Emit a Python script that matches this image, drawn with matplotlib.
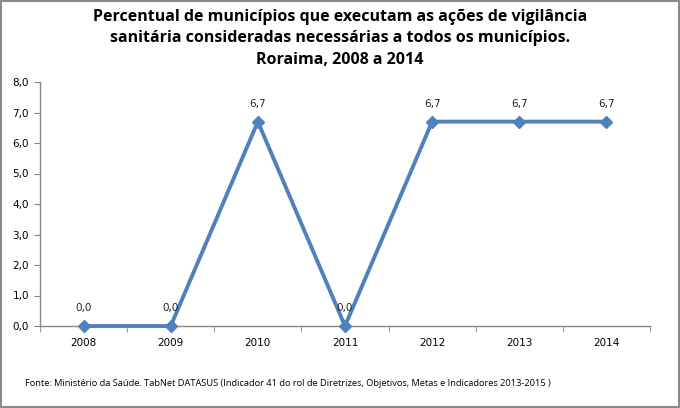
import matplotlib.pyplot as plt
from matplotlib.patches import Rectangle
from matplotlib.ticker import FixedLocator, MultipleLocator, FuncFormatter

anos = ['2008', '2009', '2010', '2011', '2012', '2013', '2014']
percentual = [0.0, 0.0, 6.7, 0.0, 6.7, 6.7, 6.7]

titulo = ('Percentual de municípios que executam as ações de vigilância\n'
          'sanitária consideradas necessárias a todos os municípios.\n'
          'Roraima, 2008 a 2014')
fonte = ('Fonte: Ministério da Saúde. TabNet DATASUS (Indicador 41 do rol de '
         'Diretrizes, Objetivos, Metas e Indicadores 2013-2015 )')

azul = '#4F81BD'

fig = plt.figure(figsize=(6.8, 4.08), dpi=100)
ax = fig.add_axes([40 / 680, 1 - 326 / 408, 610 / 680, 244 / 408])

x = list(range(len(anos)))
ax.plot(x, percentual, color=azul, lw=2.8, marker='D', ms=6.5,
        mfc=azul, mec=azul, clip_on=False, zorder=3)

for xi, v in zip(x, percentual):
    ax.annotate(f'{v:.1f}'.replace('.', ','), (xi, v), xytext=(0, 9),
                textcoords='offset points', ha='center', va='bottom',
                fontsize=7.5, color='#222222')

ax.set_xlim(-0.5, len(anos) - 0.5)
ax.set_ylim(0, 8)
ax.set_xticks(x)
ax.set_xticklabels(anos)
ax.xaxis.set_minor_locator(FixedLocator([i - 0.5 for i in range(len(anos) + 1)]))
ax.tick_params(axis='x', which='major', length=0, pad=9, labelsize=7.5)
ax.tick_params(axis='x', which='minor', length=4, color='#888888')
ax.yaxis.set_major_locator(MultipleLocator(1))
ax.yaxis.set_major_formatter(FuncFormatter(lambda v, p: f'{v:.1f}'.replace('.', ',')))
ax.tick_params(axis='y', length=4, color='#888888', labelsize=7.5, pad=4)

for s in ['top', 'right']:
    ax.spines[s].set_visible(False)
for s in ['left', 'bottom']:
    ax.spines[s].set_color('#888888')
    ax.spines[s].set_linewidth(1)

fig.text(0.5, 1 - 9 / 408, titulo, ha='center', va='top', fontsize=11.5,
         fontweight='bold', family='Open Sans', linespacing=1.45)
fig.text(25 / 680, 1 - 384 / 408, fonte, ha='left', va='center',
         fontsize=6.7, family='Open Sans')

fig.patches.append(Rectangle((0.002, 0.003), 0.996, 0.994, transform=fig.transFigure,
                             fill=False, ec='#888888', lw=1.5))

fig.savefig('out.png', dpi=100)
